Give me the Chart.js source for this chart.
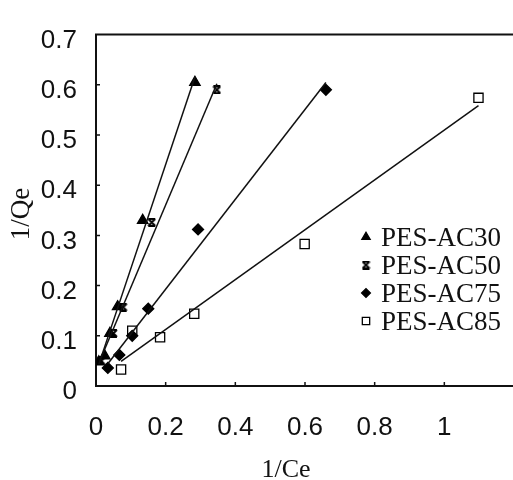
<!DOCTYPE html>
<html>
<head>
<meta charset="utf-8">
<title>1/Qe vs 1/Ce</title>
<script src="https://cdn.jsdelivr.net/npm/chart.js@4.4.1/dist/chart.umd.min.js"></script>
<style>
    html, body { margin: 0; padding: 0; background: #fff; overflow: hidden; }
    canvas { display: block; }
</style>
</head>
<body>
<canvas id="isothermChart" width="540" height="480"></canvas>
<script>
// Series names
const seriesNames = ['PES-AC30', 'PES-AC50', 'PES-AC75', 'PES-AC85'];

// 1/Ce values
const ac30X = [0.008, 0.025, 0.040, 0.062, 0.134, 0.284];
const ac50X = [0.015, 0.050, 0.078, 0.160, 0.347];
const ac75X = [0.034, 0.067, 0.104, 0.150, 0.293, 0.660];
const ac85X = [0.072, 0.104, 0.184, 0.282, 0.599, 1.098];

// 1/Qe values
const ac30Y = [0.048, 0.060, 0.105, 0.158, 0.330, 0.605];
const ac50Y = [0.050, 0.105, 0.157, 0.326, 0.590];
const ac75Y = [0.036, 0.062, 0.100, 0.154, 0.312, 0.590];
const ac85Y = [0.033, 0.110, 0.097, 0.144, 0.283, 0.574];

// Axis ticks
const xTicks = [0, 0.2, 0.4, 0.6, 0.8, 1];
const yTicks = [0, 0.1, 0.2, 0.3, 0.4, 0.5, 0.6, 0.7];

const sansFont = '"Liberation Sans", Arial, sans-serif';
const serifFont = '"Liberation Serif", "Times New Roman", serif';

/**
 * Excel-like "star" marker (x with bars), drawn on a small canvas
 */
function makeStarMarker() {
    const c = document.createElement('canvas');
    c.width = 9;
    c.height = 9;
    const g = c.getContext('2d');
    g.strokeStyle = '#000';
    g.lineWidth = 2;
    g.beginPath();
    g.moveTo(1, 1); g.lineTo(8, 8);
    g.moveTo(8, 1); g.lineTo(1, 8);
    g.moveTo(1, 1); g.lineTo(8, 1);
    g.moveTo(1, 8); g.lineTo(8, 8);
    g.stroke();
    return c;
}

const starMarker = makeStarMarker();

const markerStyles = [
    { pointStyle: 'triangle', radius: 6, fill: '#000' },
    { pointStyle: starMarker, radius: 5, fill: '#000' },
    { pointStyle: 'rectRot', radius: 5.5, fill: '#000' },
    { pointStyle: 'rect', radius: 6.5, fill: '#fff' }
];

/**
 * Least squares fit, drawn between the smallest and largest x
 */
function fitLine(xs, ys) {
    const n = xs.length;
    const mx = xs.reduce((a, b) => a + b, 0) / n;
    const my = ys.reduce((a, b) => a + b, 0) / n;
    let sxx = 0, sxy = 0;
    xs.forEach((x, i) => {
        sxx += (x - mx) * (x - mx);
        sxy += (x - mx) * (ys[i] - my);
    });
    const slope = sxy / sxx;
    const icpt = my - slope * mx;
    const x0 = Math.min(...xs);
    const x1 = Math.max(...xs);
    return [{ x: x0, y: icpt + slope * x0 }, { x: x1, y: icpt + slope * x1 }];
}

const allX = [ac30X, ac50X, ac75X, ac85X];
const allY = [ac30Y, ac50Y, ac75Y, ac85Y];

const datasets = [];

// Fit lines first so markers sit on top
allX.forEach((xs, i) => {
    datasets.push({
        type: 'line',
        label: seriesNames[i] + ' fit',
        data: fitLine(xs, allY[i]),
        borderColor: '#111',
        borderWidth: 1.5,
        pointRadius: 0,
        fill: false
    });
});

allX.forEach((xs, i) => {
    const m = markerStyles[i];
    datasets.push({
        type: 'scatter',
        label: seriesNames[i],
        data: xs.map((x, j) => ({ x: x, y: allY[i][j] })),
        pointStyle: m.pointStyle,
        pointRadius: m.radius,
        pointBackgroundColor: m.fill,
        pointBorderColor: '#000',
        pointBorderWidth: 1.3,
        showLine: false
    });
});

function formatTick(v) {
    return String(Number(v.toFixed(1)));
}

// Frame top, inner tick marks, axis titles and legend
const decorPlugin = {
    id: 'decor',
    afterDraw(chart) {
        const ctx = chart.ctx;
        const area = chart.chartArea;
        const xs = chart.scales.x;
        const ys = chart.scales.y;
        ctx.save();

        // top border
        ctx.strokeStyle = '#111';
        ctx.lineWidth = 2;
        ctx.beginPath();
        ctx.moveTo(area.left - 1, area.top);
        ctx.lineTo(area.right, area.top);
        ctx.stroke();

        // inner tick marks
        ctx.lineWidth = 1.5;
        ctx.beginPath();
        yTicks.forEach(v => {
            if (v <= 0 || v >= 0.7) return;
            const py = ys.getPixelForValue(v);
            ctx.moveTo(area.left, py);
            ctx.lineTo(area.left + 4, py);
        });
        xTicks.forEach(v => {
            if (v <= 0) return;
            const px = xs.getPixelForValue(v);
            ctx.moveTo(px, area.bottom);
            ctx.lineTo(px, area.bottom - 4);
        });
        ctx.stroke();

        // axis titles
        ctx.fillStyle = '#111';
        ctx.textAlign = 'center';
        ctx.textBaseline = 'middle';
        ctx.font = '26px ' + serifFont;
        ctx.fillText('1/Ce', 286, 470);
        ctx.save();
        ctx.translate(22, 214);
        ctx.rotate(-Math.PI / 2);
        ctx.font = '27px ' + serifFont;
        ctx.fillText('1/Qe', 0, 0);
        ctx.restore();

        // legend
        const rowY = [239, 267, 295, 323];
        ctx.textAlign = 'left';
        ctx.font = '27px ' + serifFont;
        seriesNames.forEach((name, i) => {
            const m = markerStyles[i];
            const y = rowY[i];
            ctx.fillStyle = m.fill;
            ctx.strokeStyle = '#000';
            ctx.lineWidth = 1.3;
            Chart.helpers.drawPoint(ctx, {
                pointStyle: m.pointStyle,
                radius: m.radius * 0.8,
                rotation: 0,
                borderWidth: 1.3
            }, 366, y - 2);
            ctx.fillStyle = '#111';
            ctx.fillText(name, 381, y);
        });

        ctx.restore();
    }
};

new Chart(document.getElementById('isothermChart'), {
    type: 'scatter',
    data: { datasets: datasets },
    options: {
        responsive: false,
        animation: false,
        devicePixelRatio: 1,
        layout: { padding: { top: 19, right: 15, left: 0, bottom: 0 } },
        plugins: {
            legend: { display: false },
            tooltip: { enabled: false }
        },
        scales: {
            x: {
                type: 'linear',
                min: 0,
                max: 1.2,
                grid: { display: false, drawTicks: false },
                border: { display: true, color: '#111', width: 2 },
                afterBuildTicks: s => { s.ticks = xTicks.concat([1.2]).map(v => ({ value: v })); },
                ticks: {
                    padding: 26,
                    color: '#111',
                    font: { family: sansFont, size: 26 },
                    maxRotation: 0,
                    callback: v => (v > 1.05 ? '' : formatTick(v))
                },
                afterFit: s => { s.height = 94; }
            },
            y: {
                type: 'linear',
                min: 0,
                max: 0.7,
                grid: { display: false, drawTicks: false },
                border: { display: true, color: '#111', width: 2 },
                afterBuildTicks: s => { s.ticks = yTicks.map(v => ({ value: v })); },
                ticks: {
                    padding: 19,
                    labelOffset: 6,
                    color: '#111',
                    font: { family: sansFont, size: 26 },
                    callback: v => formatTick(v)
                },
                afterFit: s => { s.width = 96; }
            }
        }
    },
    plugins: [decorPlugin]
});
</script>
</body>
</html>
